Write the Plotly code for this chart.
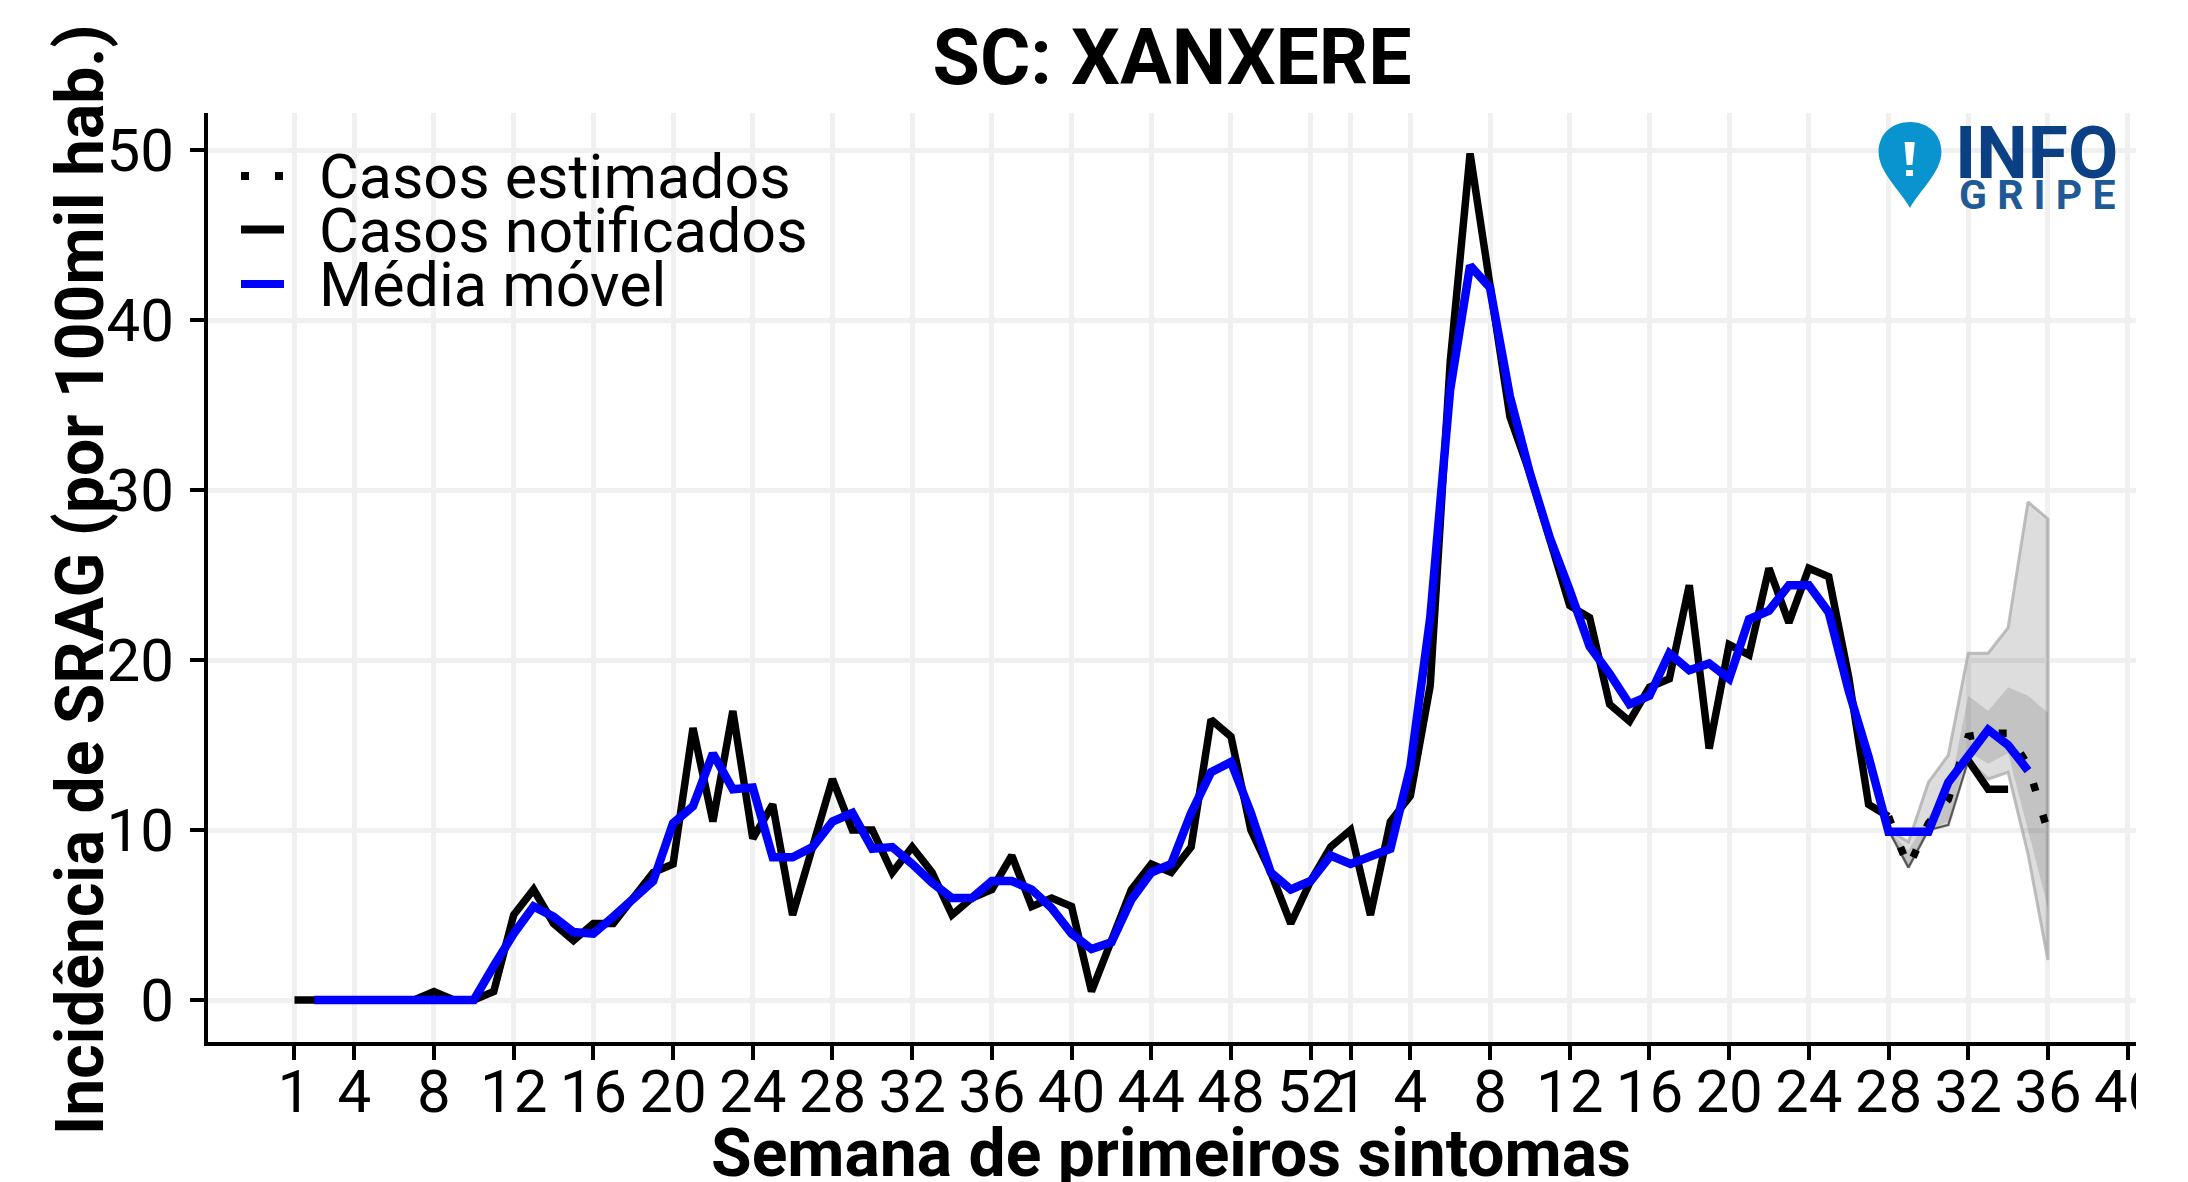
import plotly.graph_objects as go

W, H = 2188, 1182
L, R, T, B = 208, 2136, 113, 1042
PAGE = 8  # the page's own body margin

title = "SC: XANXERE"
x_title = "Semana de primeiros sintomas"
y_title = "Incidência de SRAG (por 100mil hab.)"
tick_idx = [1, 4, 8, 12, 16, 20, 24, 28, 32, 36, 40, 44, 48, 52,
            54, 57, 61, 65, 69, 73, 77, 81, 85, 89, 93]
tick_txt = ["1", "4", "8", "12", "16", "20", "24", "28", "32", "36", "40", "44", "48", "52",
            "1", "4", "8", "12", "16", "20", "24", "28", "32", "36", "40"]
y_ticks = [0, 10, 20, 30, 40, 50]

notified = [0, 0, 0, 0, 0, 0, 0, 0.5, 0, 0, 0.5, 5, 6.5, 4.5, 3.5, 4.5, 4.5, 6, 7.5, 8,
            16, 10.5, 17, 9.5, 11.5, 5, 9, 13, 10, 10, 7.5, 9, 7.5, 5, 6, 6.5, 8.5, 5.5, 6, 5.5,
            0.5, 3.5, 6.5, 8, 7.5, 9, 16.5, 15.5, 10, 7.5, 4.5, 7, 9, 10, 5, 10.5, 12, 18.5, 37.5, 49.8,
            42, 34.3, 31, 27.2, 23.2, 22.5, 17.4, 16.4, 18.4, 18.9, 24.4, 14.8, 20.9, 20.3, 25.4, 22.2, 25.4, 24.9, 19, 11.5,
            10.8, None, None, None, 14.1, 12.4, 12.4]
moving = [0, 0, 0, 0, 0, 0, 0, 0, 0, 2, 3.9, 5.5, 4.9, 4, 3.9, 4.9, 6, 7, 10.4,
          11.4, 14.5, 12.4, 12.5, 8.4, 8.4, 9, 10.5, 11, 8.9, 9, 8, 6.9, 6, 6, 7, 7, 6.5, 5.4, 3.9,
          3, 3.4, 5.9, 7.5, 8, 11, 13.4, 14, 11, 7.5, 6.5, 7, 8.5, 8, 8.4, 8.9, 13.7, 22.5, 35.9, 43.2,
          41.9, 35.5, 31, 27.2, 24.1, 20.8, 19.2, 17.4, 17.9, 20.4, 19.4, 19.8, 18.9, 22.4, 22.9, 24.4, 24.4, 22.8, 18.2, 14.3,
          9.9, 9.9, 9.9, 12.8, 14.3, 15.9, 15, 13.5]
est_idx = [81, 82, 83, 84, 85, 86, 87, 88, 89]
estimated = [10.8, 7.8, 10.4, 11.8, 15.5, 15.7, 15.7, 13.8, 9.9]
outer_hi = [10, 9.3, 12.8, 14.4, 20.4, 20.4, 21.9, 29.3, 28.3]
outer_lo = [10, 7.8, 10, 10.3, 14.1, 13, 13.4, 8.6, 2.35]
inner_hi = [10, 8.8, 10.8, 12, 17.9, 17, 18.4, 17.9, 16.9]
inner_lo = [10, 7.8, 10, 10.5, 14.6, 13.9, 14.5, 10, 5.4]
edge_idx = [81, 82, 83, 84, 85]
edge_lo = [10, 7.8, 10, 10.3, 14.1]

FONT = "Roboto"
x_range = [-3.34, 93.42]
y_range = [-2.47, 52.18]


def px(x):
    return (x - L) / (R - L)


def py(y):
    return (B - y) / (B - T)


def pth(cmds):
    out = []
    for c in cmds:
        if c[0] == "Z":
            out.append("Z")
        elif c[0] == "L":
            out.extend(f"L{px(a):.5f},{py(b):.5f}" for a, b in c[1])
        else:
            pts = " ".join(f"{px(a):.5f},{py(b):.5f}" for a, b in c[1])
            out.append(c[0] + pts)
    return " ".join(out)


fig = go.Figure()
fig.add_trace(go.Scatter(x=est_idx + est_idx[::-1], y=outer_hi + outer_lo[::-1], fill="toself",
                         fillcolor="rgba(0,0,0,0.135)", mode="lines",
                         line=dict(color="rgba(170,170,170,0.75)", width=3), name="IC 95%", showlegend=False))
fig.add_trace(go.Scatter(x=est_idx + est_idx[::-1], y=inner_hi + inner_lo[::-1], fill="toself",
                         fillcolor="rgba(0,0,0,0.115)", mode="lines",
                         line=dict(color="rgba(0,0,0,0)", width=0), name="IC 50%", showlegend=False))
fig.add_trace(go.Scatter(x=edge_idx, y=edge_lo, mode="lines", line=dict(color="#555555", width=2),
                         showlegend=False, name="limite"))
fig.add_trace(go.Scatter(x=est_idx, y=estimated, mode="lines", name="Casos estimados", showlegend=False,
                         line=dict(color="black", width=7.5, dash="8px,25px")))
fig.add_trace(go.Scatter(x=list(range(1, len(notified) + 1)), y=notified, mode="lines", connectgaps=False,
                         name="Casos notificados", showlegend=False, line=dict(color="black", width=7.5)))
fig.add_trace(go.Scatter(x=list(range(2, len(moving) + 2)), y=moving, mode="lines",
                         name="Média móvel", showlegend=False, line=dict(color="#0000FF", width=8.5)))

shapes = [
    dict(type="rect", xref="paper", yref="paper", x0=1.0, x1=1.03, y0=-0.16, y1=-0.004,
         fillcolor="white", line=dict(width=0), layer="above"),
    dict(type="line", xref="paper", yref="paper", x0=px(241), x1=px(284), y0=py(176), y1=py(176),
         line=dict(color="black", width=8, dash="8px,26px")),
    dict(type="line", xref="paper", yref="paper", x0=px(241), x1=px(284), y0=py(229.5), y1=py(229.5),
         line=dict(color="black", width=8)),
    dict(type="line", xref="paper", yref="paper", x0=px(241), x1=px(284), y0=py(284), y1=py(284),
         line=dict(color="#0000FF", width=8)),
    dict(type="path", xref="paper", yref="paper", fillcolor="#0A94CF", line=dict(width=0), path=pth([
        ("M", [(1910, 208)]),
        ("C", [(1900, 190), (1878.6, 172), (1878.6, 152)]),
        ("C", [(1878.6, 134), (1892, 122), (1910, 122)]),
        ("C", [(1928, 122), (1941.4, 134), (1941.4, 152)]),
        ("C", [(1941.4, 172), (1920, 190), (1910, 208)]),
        ("Z",)])),
    dict(type="path", xref="paper", yref="paper", fillcolor="white", line=dict(width=0), path=pth([
        ("M", [(1904.6, 142)]), ("L", [(1914.8, 142), (1912.4, 165), (1906.7, 165)]), ("Z",)])),
    dict(type="rect", xref="paper", yref="paper", x0=px(1906), x1=px(1913), y0=py(170), y1=py(176),
         fillcolor="white", line=dict(width=0)),
]

annots = []
for label, y in [("Casos estimados", 177), ("Casos notificados", 230.5), ("Média móvel", 285)]:
    annots.append(dict(text=label, xref="paper", yref="paper", x=px(317), y=py(y), xanchor="left", yanchor="middle",
                       showarrow=False, font=dict(family=FONT, size=61, color="black")))
annots.append(dict(text=f"<b>{y_title}</b>", xref="paper", yref="paper", x=px(80), y=py(580), xanchor="center",
                   yanchor="middle", textangle=-90, showarrow=False,
                   font=dict(family=FONT, size=66, color="black")))
annots.append(dict(text=f"<b>{x_title}</b>", xref="paper", yref="paper", x=px(1171), y=py(1153), xanchor="center",
                   yanchor="middle", showarrow=False,
                   font=dict(family=FONT, size=66, color="black")))
annots.append(dict(text="<b>INFO</b>", xref="paper", yref="paper", x=px(2036), y=py(153), xanchor="center",
                   yanchor="middle", showarrow=False, font=dict(family="Roboto", size=73, color="#0B4184")))
annots.append(dict(text="<b>G R I P E</b>", xref="paper", yref="paper", x=px(2037), y=py(195), xanchor="center",
                   yanchor="middle", showarrow=False, font=dict(family="Roboto", size=41, color="#1F5A97")))

axis_common = dict(showline=True, linecolor="black", linewidth=4, ticks="outside", ticklen=14, tickwidth=4,
                   tickcolor="black", showgrid=True, gridcolor="#F0F0F0", gridwidth=5, zeroline=False,
                   tickfont=dict(family=FONT, size=60, color="black"))

fig.update_layout(
    width=W - PAGE, height=H - PAGE, autosize=False,
    margin=dict(l=L - PAGE, r=W - R, t=T - PAGE, b=H - B, autoexpand=False),
    plot_bgcolor="white", paper_bgcolor="white", showlegend=False,
    title=dict(text=f"<b>{title}</b>", x=0.5, xref="paper", xanchor="center", y=1 - (57 - PAGE) / (H - PAGE),
               yanchor="middle", font=dict(family=FONT, size=77, color="black")),
    xaxis=dict(range=x_range, tickmode="array", tickvals=tick_idx, ticktext=tick_txt, tickangle=0,
               ticklabelstandoff=-20, automargin=False, **axis_common),
    yaxis=dict(range=y_range, tickmode="array", tickvals=y_ticks, ticklabelstandoff=4,
               automargin=False, **axis_common),
    shapes=shapes, annotations=annots,
)
fig.write_html("out.html")
